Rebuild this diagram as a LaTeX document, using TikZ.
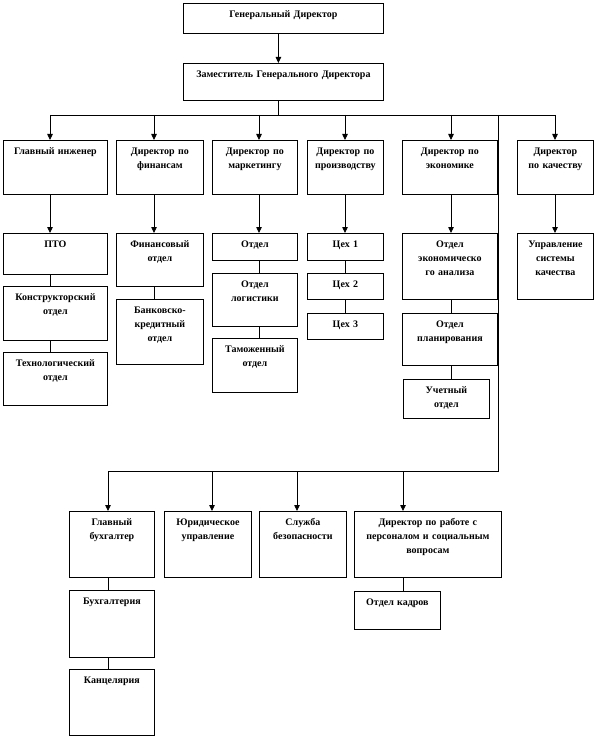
\documentclass[tikz,border=0pt]{standalone}
\usepackage{fontspec}
\setmainfont{Liberation Serif}
\usetikzlibrary{arrows.meta}

\begin{document}
\begin{tikzpicture}[x=1pt,y=-1pt,line width=0.8pt,
  every node/.style={font=\fontsize{10}{14}\selectfont\bfseries},
  b/.style={draw,anchor=north west,inner xsep=3pt,inner ysep=0pt,align=center,text height=14pt},
  a/.style={-{Triangle[width=5.5pt,length=6pt]}}]
  \useasboundingbox (0,0) rectangle (596,738);
  \node[b,text width=194pt,text depth=16pt] (gd)  at (183,3)  {Генеральный Директор};
  \node[b,text width=194pt,text depth=23pt] (zam) at (183,63) {Заместитель Генерального Директора};
  \node[b,text width=98pt,text depth=40pt] (gi)   at (3,140)   {Главный инженер};
  \node[b,text width=81pt,text depth=40pt] (fin)  at (116,140) {Директор по\\финансам};
  \node[b,text width=79pt,text depth=40pt] (mark) at (212,140) {Директор по\\маркетингу};
  \node[b,text width=70pt,text depth=40pt] (prod) at (307,140) {Директор по\\производству};
  \node[b,text width=89pt,text depth=40pt] (econ) at (402,140) {Директор по\\экономике};
  \node[b,text width=70pt,text depth=40pt] (qual) at (517,140) {Директор\\по качеству};
  \node[b,text width=98pt,text depth=27pt] (pto)   at (3,233) {ПТО};
  \node[b,text width=98pt,text depth=40pt] (konst) at (3,286) {Конструкторский\\отдел};
  \node[b,text width=98pt,text depth=39pt] (tech)  at (3,352) {Технологический\\отдел};
  \node[b,text width=81pt,text depth=39pt] (fino)  at (116,233) {Финансовый\\отдел};
  \node[b,text width=81pt,text depth=51pt] (bank)  at (116,299) {Банковско-\\кредитный\\отдел};
  \node[b,text width=79pt,text depth=13pt] (otd)   at (212,233) {Отдел};
  \node[b,text width=79pt,text depth=39pt] (log)   at (212,273) {Отдел\\логистики};
  \node[b,text width=79pt,text depth=40pt] (tam)   at (212,338) {Таможенный\\отдел};
  \node[b,text width=70pt,text depth=13pt] (ceh1)  at (307,233) {Цех 1};
  \node[b,text width=70pt,text depth=12pt] (ceh2)  at (307,273) {Цех 2};
  \node[b,text width=70pt,text depth=12pt] (ceh3)  at (307,313) {Цех 3};
  \node[b,text width=89pt,text depth=52pt] (anal)  at (402,233) {Отдел\\экономическо\\го анализа};
  \node[b,text width=89pt,text depth=38pt] (plan)  at (402,313) {Отдел\\планирования};
  \node[b,text width=80pt,text depth=25pt] (uch)   at (403,379) {Учетный\\отдел};
  \node[b,text width=70pt,text depth=52pt] (usk)   at (517,233) {Управление\\системы\\качества};
  \node[b,text width=79pt,text depth=52pt] (glbuh) at (69,511)  {Главный\\бухгалтер};
  \node[b,text width=81pt,text depth=52pt] (yur)   at (164,511) {Юридическое\\управление};
  \node[b,text width=81pt,text depth=52pt] (sb)    at (259,511) {Служба\\безопасности};
  \node[b,text width=141pt,text depth=52pt] (pers) at (354,511) {Директор по работе с\\персоналом и социальным\\вопросам};
  \node[b,text width=80pt,text depth=24pt] (kadry) at (354,591) {Отдел кадров};
  \node[b,text width=79pt,text depth=53pt] (buh)   at (69,590)  {Бухгалтерия};
  \node[b,text width=79pt,text depth=52pt] (kanc)  at (69,669)  {Канцелярия};
  \coordinate (b1) at (50,115);  \coordinate (b2) at (154,115); \coordinate (b3) at (259,115);
  \coordinate (b4) at (345,115); \coordinate (b5) at (451,115); \coordinate (b6) at (555,115);
  \coordinate (r1) at (498,115); \coordinate (r2) at (498,471);
  \coordinate (d1) at (108,471); \coordinate (d2) at (212,471); \coordinate (d3) at (297,471);
  \coordinate (d4) at (403,471);
  \draw[a] ([xshift=-5pt]gd.south) -- ([xshift=-5pt]zam.north);
  \draw ([xshift=-5pt]zam.south) -- ([xshift=-5pt]zam.south |- b1);
  \draw (b1) -- (b6); \draw (r1) -- (r2) -- (d1);
  \draw[a] (b1) -- (b1 |- gi.north);   \draw[a] (b2) -- (b2 |- fin.north);
  \draw[a] (b3) -- (b3 |- mark.north); \draw[a] (b4) -- (b4 |- prod.north);
  \draw[a] (b5) -- (b5 |- econ.north); \draw[a] (b6) -- (b6 |- qual.north);
  \draw[a] (b1 |- gi.south) -- (b1 |- pto.north);   \draw[a] (b2 |- fin.south) -- (b2 |- fino.north);
  \draw[a] (b3 |- mark.south) -- (b3 |- otd.north); \draw[a] (b4 |- prod.south) -- (b4 |- ceh1.north);
  \draw[a] (b5 |- econ.south) -- (b5 |- anal.north); \draw[a] (b6 |- qual.south) -- (b6 |- usk.north);
  \draw (b1 |- pto.south) -- (b1 |- konst.north) (b1 |- konst.south) -- (b1 |- tech.north);
  \draw (b2 |- fino.south) -- (b2 |- bank.north);
  \draw (b3 |- otd.south) -- (b3 |- log.north) (b3 |- log.south) -- (b3 |- tam.north);
  \draw (b4 |- ceh1.south) -- (b4 |- ceh2.north) (b4 |- ceh2.south) -- (b4 |- ceh3.north);
  \draw (b5 |- anal.south) -- (b5 |- plan.north) (b5 |- plan.south) -- (b5 |- uch.north);
  \draw[a] (d1) -- (d1 |- glbuh.north); \draw[a] (d2) -- (d2 |- yur.north);
  \draw[a] (d3) -- (d3 |- sb.north);    \draw[a] (d4) -- (d4 |- pers.north);
  \draw (d1 |- glbuh.south) -- (d1 |- buh.north) (d1 |- buh.south) -- (d1 |- kanc.north);
  \draw (d4 |- pers.south) -- (d4 |- kadry.north);
\end{tikzpicture}
\end{document}
